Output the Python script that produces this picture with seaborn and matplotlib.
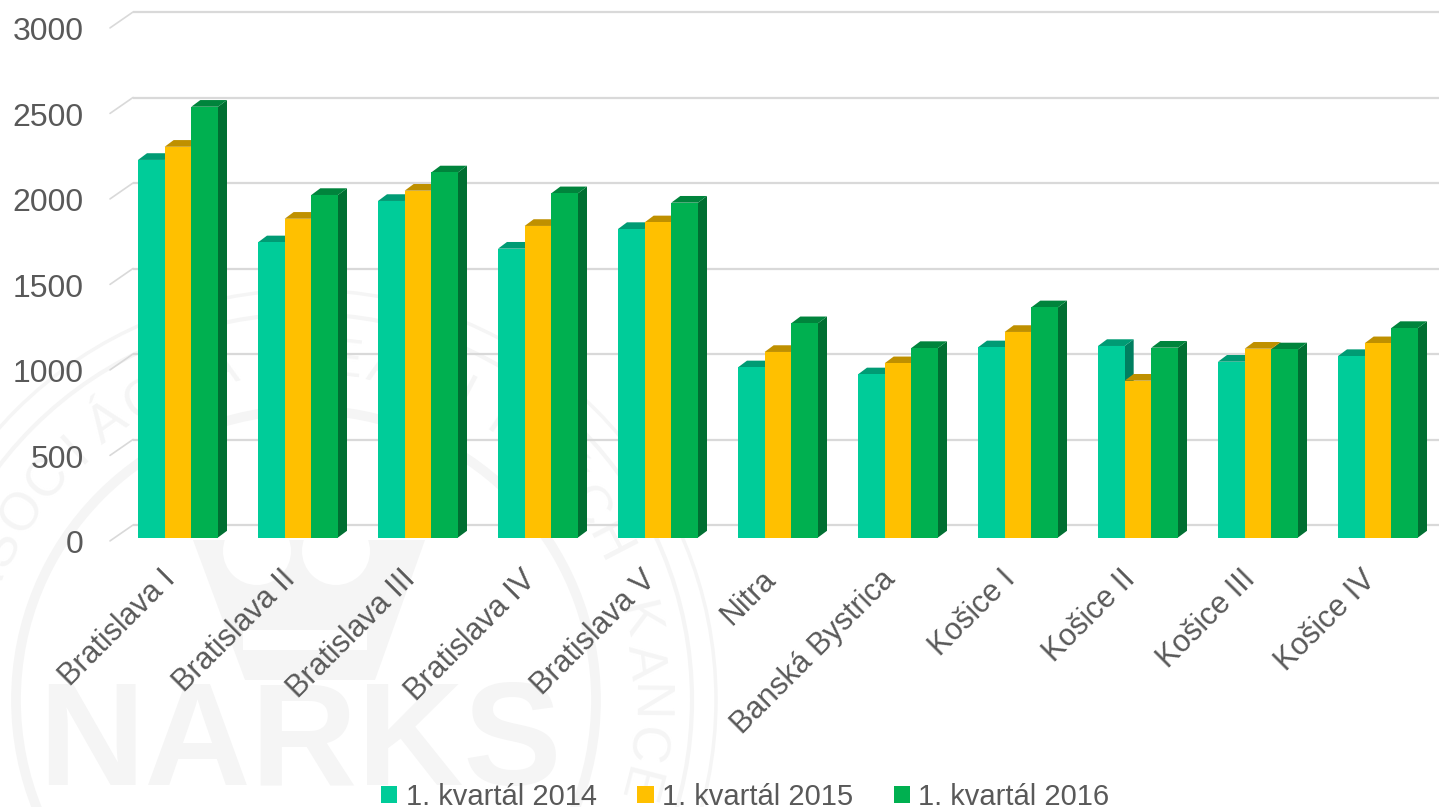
import matplotlib
matplotlib.use('Agg')
import matplotlib.pyplot as plt
import matplotlib.transforms as mtrans
from matplotlib.patches import Circle, Polygon, Rectangle
import numpy as np
import pandas as pd
import seaborn as sns

# data
regions = ['Bratislava I', 'Bratislava II', 'Bratislava III', 'Bratislava IV', 'Bratislava V', 'Nitra',
           'Banská Bystrica', 'Košice I', 'Košice II', 'Košice III', 'Košice IV']
q1_2014 = [2208, 1726, 1968, 1689, 1804, 995, 954, 1112, 1120, 1028, 1061]
q1_2015 = [2285, 1864, 2028, 1822, 1843, 1085, 1019, 1202, 917, 1104, 1136]
q1_2016 = [2519, 2003, 2135, 2013, 1958, 1253, 1108, 1346, 1110, 1100, 1225]
quarters = ['1. kvartál 2014', '1. kvartál 2015', '1. kvartál 2016']
y_ticks = [0, 500, 1000, 1500, 2000, 2500, 3000]

df = pd.DataFrame({'region': regions * 3,
                   'count': q1_2014 + q1_2015 + q1_2016,
                   'quarter': np.repeat(quarters, len(regions))})

front = ['#00CC99', '#FFC000', '#00B050']
top = ['#009B74', '#BF9000', '#00843C']
side = ['#007F60', '#9C7600', '#006F32']
text_col = '#595959'
grid_col = '#D9D9D9'
mark_col = '#F5F5F5'

sns.set_theme(style='white')
plt.rcParams['font.family'] = ['Liberation Sans', 'DejaVu Sans']

W, H = 1439, 807
fig = plt.figure(figsize=(W / 100, H / 100), dpi=100, facecolor='white')

# faint logo behind the chart, in pixel coordinates
bg = fig.add_axes([0, 0, 1, 1], zorder=0)
bg.set_xlim(0, W)
bg.set_ylim(H, 0)
bg.axis('off')
cx, cy = 306, 700
for r, lw in [(410, 2.5), (386, 3), (290, 7)]:
    bg.add_patch(Circle((cx, cy), r, fill=False, ec=mark_col, lw=lw))
bg.add_patch(Polygon([(193, 540), (425, 540), (375, 680), (245, 680)], fc=mark_col, ec='none'))
bg.add_patch(Circle((257, 551), 34, fc='white', ec='none'))
bg.add_patch(Circle((336, 551), 34, fc='white', ec='none'))
bg.add_patch(Rectangle((243, 630), 124, 20, fc='white', ec='none'))
bg.text(38, 785, 'NARKS', fontsize=106, fontweight='bold', color=mark_col, va='baseline', ha='left')
ring = 'NÁRODNÁ ASOCIÁCIA REALITNÝCH KANCELÁRIÍ SLOVENSKA'
k_pos = ring.index('K')
for i, ch in enumerate(ring):
    ang = 13.5 - (i - k_pos) * 7.0
    bg.text(cx + 340 * np.cos(np.radians(ang)), cy - 340 * np.sin(np.radians(ang)), ch,
            fontsize=38, color=mark_col, ha='center', va='center', rotation=ang - 90, clip_on=True)

# main axes: value 0 sits at y=537.5px, value 3000 at 24.5px
ax = fig.add_axes([110 / W, 1 - 537.5 / H, (W - 110) / W, 513 / H], zorder=1)
ax.patch.set_alpha(0)
sns.barplot(data=df, x='region', y='count', hue='quarter', hue_order=quarters, palette=front,
            order=regions, saturation=1, width=2 / 3, gap=0, linewidth=0, legend=False, ax=ax)
ax.set_xlim(-68 / 120, (W - 178) / 120)
ax.set_ylim(0, 3000)
ax.set_xlabel('')
ax.set_ylabel('')
sns.despine(ax=ax, left=True, bottom=True, top=True, right=True)

# 3d depth of the bars, px converted to data units
dx = 9 / 120
dy = 6.7 * 3000 / 513
for j, cont in enumerate(ax.containers):
    for bar in cont:
        x0, x1, v = bar.get_x(), bar.get_x() + bar.get_width(), bar.get_height()
        z = 3 + round(x0 * 10) * 0.01
        ax.add_patch(Polygon([(x1, 0), (x1 + dx, dy), (x1 + dx, v + dy), (x1, v)], fc=side[j], ec='none',
                             zorder=z, clip_on=False))
        ax.add_patch(Polygon([(x0, v), (x0 + dx, v + dy), (x1 + dx, v + dy), (x1, v)], fc=top[j], ec='none',
                             zorder=z + 0.001, clip_on=False))
        bar.set_zorder(z + 0.002)

# grid on the back wall with the slanted piece on the left
back_x = -68 / 120 + 23 / 120
back_y = 12.5 * 3000 / 513
for v in y_ticks:
    ax.plot([back_x, ax.get_xlim()[1]], [v + back_y, v + back_y], color=grid_col, lw=1.6, zorder=1,
            clip_on=False, solid_capstyle='butt')
    ax.plot([ax.get_xlim()[0], back_x], [v - 20, v + back_y], color=grid_col, lw=1.2, zorder=1, clip_on=False)

ax.set_yticks(y_ticks)
ax.tick_params(axis='y', length=0, pad=19, labelsize=23, labelcolor=text_col)
ax.tick_params(axis='x', length=0, pad=27, labelsize=22, labelcolor=text_col)
ax.set_xticks(range(len(regions)))
ax.set_xticklabels(regions, rotation=45, ha='right', va='center', rotation_mode='anchor')
for lab in ax.get_yticklabels():
    lab.set_transform(lab.get_transform() + mtrans.ScaledTranslation(0, -3 / 72, fig.dpi_scale_trans))
for lab in ax.get_xticklabels():
    lab.set_transform(lab.get_transform() + mtrans.ScaledTranslation(-5 / 72, 0, fig.dpi_scale_trans))

handles = [cont[0] for cont in ax.containers]
ax.legend(handles, quarters, loc='center', bbox_to_anchor=(745.5 / W, 1 - 797 / H), bbox_transform=fig.transFigure,
          ncol=3, frameon=False, fontsize=21, labelcolor=text_col, handlelength=0.55, handleheight=0.55,
          handletextpad=0.3, columnspacing=1.38, borderpad=0, borderaxespad=0)

fig.savefig('out.png', dpi=100)
